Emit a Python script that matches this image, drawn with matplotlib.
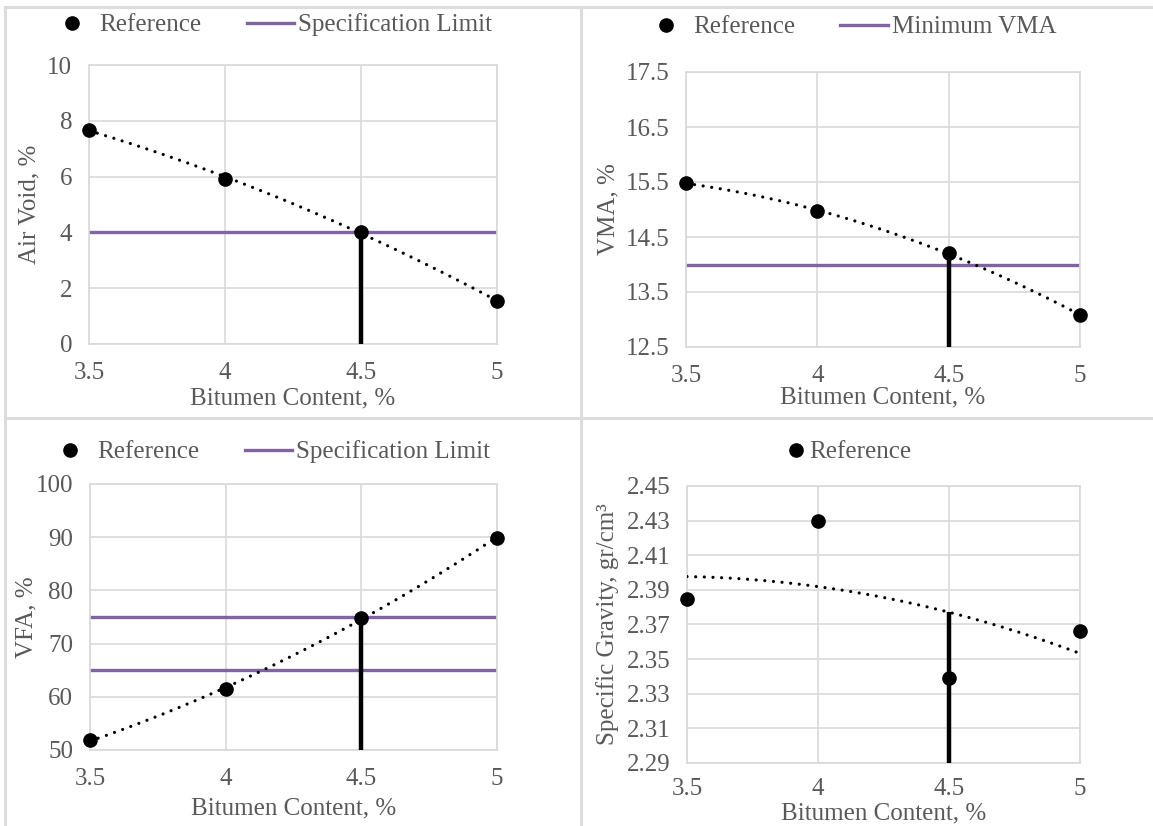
import numpy as np
import matplotlib
matplotlib.use("Agg")
import matplotlib.pyplot as plt
from matplotlib.lines import Line2D

plt.rcParams['font.family'] = ['Liberation Serif', 'DejaVu Serif']

# ---- data ----
bitumen = [3.5, 4.0, 4.5, 5.0]
air_void = [7.67, 5.93, 4.03, 1.53]
vma = [15.48, 14.97, 14.21, 13.08]
vfa = [51.8, 61.4, 74.9, 89.9]
gmb = [2.385, 2.430, 2.339, 2.366]

av_limits = [4.0]
vma_limits = [14.0]
vfa_limits = [65.0, 75.0]
optimum_bitumen = 4.5

xticks = [3.5, 4.0, 4.5, 5.0]
xtick_labels = ["3.5", "4", "4.5", "5"]

av_ticks = [0, 2, 4, 6, 8, 10]
av_labels = ["0", "2", "4", "6", "8", "10"]
vma_ticks = [12.5, 13.5, 14.5, 15.5, 16.5, 17.5]
vma_labels = ["12.5", "13.5", "14.5", "15.5", "16.5", "17.5"]
vfa_ticks = [50, 60, 70, 80, 90, 100]
vfa_labels = ["50", "60", "70", "80", "90", "100"]
gmb_ticks = [2.29, 2.31, 2.33, 2.35, 2.37, 2.39, 2.41, 2.43, 2.45]
gmb_labels = ["2.29", "2.31", "2.33", "2.35", "2.37", "2.39", "2.41", "2.43", "2.45"]

# ---- style ----
W, H = 1153, 826
TXT = "#595959"
GRID = "#d9d9d9"
PURPLE = "#8064a2"
FS = 18

fig = plt.figure(figsize=(W / 100, H / 100), dpi=100)


def px_axes(left, top, right, bottom):
    return fig.add_axes([left / W, 1 - bottom / H, (right - left) / W, (bottom - top) / H])


def style(ax, yticks, ylabels, ylabel, xlab_y, ylab_x, xpad=13):
    ax.set_xlim(3.5, 5.0)
    ax.set_ylim(yticks[0], yticks[-1])
    ax.set_xticks(xticks)
    ax.set_xticklabels(xtick_labels)
    ax.set_yticks(yticks)
    ax.set_yticklabels(ylabels)
    ax.grid(True, color=GRID, lw=1.2)
    ax.set_axisbelow(True)
    for s in ax.spines.values():
        s.set_color(GRID)
        s.set_linewidth(1.2)
    ax.tick_params(length=0, labelsize=FS, labelcolor=TXT)
    ax.tick_params(axis='x', pad=xpad)
    ax.tick_params(axis='y', pad=12)
    ax.set_xlabel("Bitumen Content, %", fontsize=FS, color=TXT)
    ax.set_ylabel(ylabel, fontsize=FS, color=TXT)
    ax.xaxis.set_label_coords(0.5, xlab_y)
    ax.xaxis.label.set_va('center')
    ax.yaxis.set_label_coords(ylab_x, 0.5)
    ax.yaxis.label.set_va('center')


def draw(ax, y, limits, limit_label, ymin):
    xs = np.linspace(3.5, 5.0, 200)
    coef = np.polyfit(bitumen, y, 2)
    ax.plot(xs, np.polyval(coef, xs), color='black', lw=2.3,
            linestyle=(0, (0.01, 2.7)), dash_capstyle='round', zorder=3)
    handles = []
    for i, lim in enumerate(limits):
        ln, = ax.plot([3.5, 5.0], [lim, lim], color=PURPLE, lw=2.4, zorder=2,
                      label=limit_label if i == 0 else None)
        if i == 0:
            handles.append(ln)
    ax.vlines(optimum_bitumen, ymin, np.polyval(coef, optimum_bitumen),
              color='black', lw=3.2, zorder=4)
    pts, = ax.plot(bitumen, y, 'o', color='black', ms=9.5, clip_on=False,
                   zorder=5, label="Reference")
    return [pts] + handles


def legend(ax, handles, cx, cy, hl=1.9, htp=0.15):
    leg = ax.legend(handles=handles, loc='center', ncol=len(handles),
                    bbox_to_anchor=(cx / W, 1 - cy / H), bbox_transform=fig.transFigure,
                    frameon=False, fontsize=FS, handlelength=hl, handletextpad=htp,
                    columnspacing=1.8, borderaxespad=0, borderpad=0)
    for t in leg.get_texts():
        t.set_color(TXT)


# Panel 1: Air void
ax1 = px_axes(89, 65, 497, 344)
h = draw(ax1, air_void, av_limits, "Specification Limit", av_ticks[0])
style(ax1, av_ticks, av_labels, "Air Void, %", -0.1935, -0.147)
legend(ax1, h, 270, 25)

# Panel 2: VMA
ax2 = px_axes(686, 72, 1080, 347)
h = draw(ax2, vma, vma_limits, "Minimum VMA", vma_ticks[0])
style(ax2, vma_ticks, vma_labels, "VMA, %", -0.185, -0.198)
legend(ax2, h, 849, 27)

# Panel 3: VFA
ax3 = px_axes(90, 484, 497, 750)
h = draw(ax3, vfa, vfa_limits, "Specification Limit", vfa_ticks[0])
style(ax3, vfa_ticks, vfa_labels, "VFA, %", -0.218, -0.155)
legend(ax3, h, 268, 452)

# Panel 4: Specific gravity
ax4 = px_axes(687, 486, 1080, 763)
h = draw(ax4, gmb, [], None, gmb_ticks[0])
style(ax4, gmb_ticks, gmb_labels, "Specific Gravity, gr/cm³", -0.182, -0.201, xpad=11)
legend(ax4, h, 850, 452, hl=0.6, htp=0.2)

# panel frames
frame_kw = dict(color="#dcdcdc", lw=2.2, transform=fig.transFigure)
for (x0, y0, x1, y1) in [(5, 7, W, 7), (5, 7, 5, H), (581, 7, 581, H), (5, 418, W, 418)]:
    fig.add_artist(Line2D([x0 / W, x1 / W], [1 - y0 / H, 1 - y1 / H], **frame_kw))

fig.savefig("out.png", dpi=100)
